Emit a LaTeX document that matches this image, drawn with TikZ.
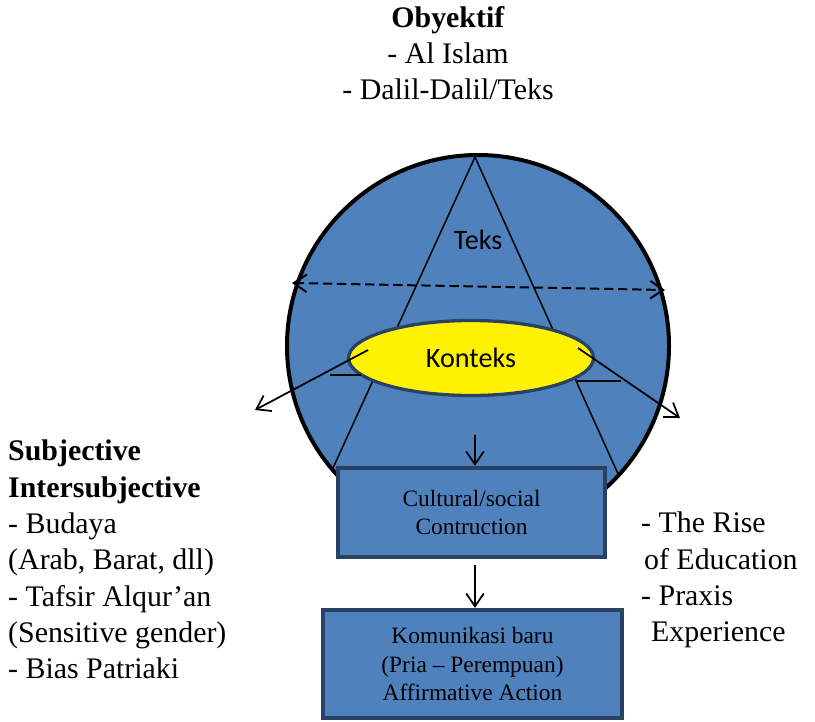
\documentclass[tikz,border=0pt]{standalone}
\usepackage{fontspec}
\setmainfont{Liberation Serif}
\newfontfamily\calibri{Carlito}
\usetikzlibrary{shapes.geometric, arrows.meta}
\definecolor{boxblue}{RGB}{79,129,189}
\definecolor{edgeblue}{RGB}{41,66,100}

\begin{document}
\begin{tikzpicture}[x=0.03cm, y=-0.03cm,
    panel/.style={draw=edgeblue, line width=3.6pt, fill=boxblue, align=center, font=\fontsize{20}{24.5}\selectfont},
    notes/.style={inner sep=0pt, font=\fontsize{25.5}{31}\selectfont},
    barb/.style={-{Straight Barb[length=11pt, width=15pt]}, line width=1.5pt}]
    \useasboundingbox (0,0) rectangle (815,721);

    % Globe
    \node[draw, circle, line width=3.4pt, fill=boxblue, minimum size=11.46cm] (globe) at (478,346) {};

    % Triangle
    \coordinate (apex) at (475,157);
    \coordinate (leftfoot) at (333,468);
    \coordinate (rightfoot) at (619,476);
    \draw[line width=1.3pt] (leftfoot) -- (apex) -- (rightfoot);

    % Dashed double arrow
    \coordinate (westend) at (292,283);
    \coordinate (eastend) at (665,290);
    \draw[barb, {Straight Barb[length=11pt, width=15pt]}-{Straight Barb[length=11pt, width=15pt]},
          line width=1.7pt, dash pattern=on 8pt off 4pt] (westend) -- (eastend);

    \node[font=\calibri\fontsize{24}{28}\selectfont] (teks) at (478,240) {Teks};

    % Konteks ellipse
    \node[draw=edgeblue, ellipse, line width=2.8pt, fill=yellow, minimum width=7.35cm, minimum height=2.25cm,
          font=\calibri\fontsize{24}{28}\selectfont] (konteks) at (471,358) {Konteks};

    \coordinate (tickla) at (330,375);
    \coordinate (ticklb) at (361,375);
    \coordinate (tickra) at (577,381);
    \coordinate (tickrb) at (621,381);
    \draw[line width=1.3pt] (tickla) -- (ticklb);
    \draw[line width=1.3pt] (tickra) -- (tickrb);

    % Arrows out of the ellipse
    \coordinate (outla) at (368,350);
    \coordinate (outlb) at (255,410);
    \coordinate (outra) at (578,348);
    \coordinate (outrb) at (680,418);
    \draw[barb] (outla) -- (outlb);
    \draw[barb] (outra) -- (outrb);

    % Boxes
    \node[panel, minimum width=8.01cm, minimum height=2.67cm] (culture) at (471.5,512.5) {Cultural/social\\Contruction};
    \node[panel, minimum width=8.97cm, minimum height=3.24cm] (komunikasi) at (472.5,664) {Komunikasi baru\\(Pria -- Perempuan)\\Affirmative Action};

    \coordinate (downa) at (475,435);
    \coordinate (downb) at (475,565);
    \draw[barb] (downa) -- (downa |- culture.north);
    \draw[barb] (downb) -- (downb |- komunikasi.north);

    % Text blocks
    \node[notes, align=center, anchor=north] (obyektif) at (448,6) {\textbf{Obyektif}\\- Al Islam\\- Dalil-Dalil/Teks};
    \node[notes, align=left, anchor=north west] (subjective) at (8,440) {\textbf{Subjective}\\\textbf{Intersubjective}\\- Budaya\\(Arab, Barat, dll)\\- Tafsir Alqur’an\\(Sensitive gender)\\- Bias Patriaki};
    \node[notes, align=left, anchor=north west] (rise) at (641,512) {- The Rise\\\hspace*{2.5pt}of Education\\- Praxis\\\hspace*{8.5pt}Experience};
\end{tikzpicture}
\end{document}
